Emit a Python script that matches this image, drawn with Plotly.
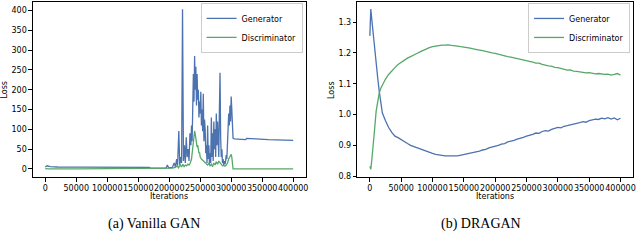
import plotly.graph_objects as go

# ---------------- Vanilla GAN ----------------
van_gen_x = [0, 3000, 8000, 20000, 60000, 100000, 140000, 168000, 170000, 195000, 197000, 199000,
             205000, 208000, 210000, 212000, 213500, 215500, 217000, 218500, 220000, 221500, 223000,
             224500, 226000, 227500, 229000, 230500, 232000, 233500, 235000, 236000, 237000, 238000,
             239000, 240000, 241000, 242000, 243000, 244000, 245000, 246000, 247000, 248000, 249000,
             250000, 251000, 252000, 253000, 254000, 255000, 256000, 257000, 258000, 259000, 260000,
             261000, 262000, 263000, 264000, 265000, 266000, 267000, 268000, 269000, 270000, 271000,
             272000, 273000, 274000, 275000, 276000, 277000, 278000, 279000, 280000, 281000, 282000,
             283000, 284000, 285000, 286000, 287000, 288000, 289000, 290000, 291000, 292000, 293000,
             294000, 295000, 296000, 297000, 298000, 299000, 300000, 301000, 302000, 303000, 305000,
             310000, 320000, 323000, 325000, 330000, 340000, 360000, 380000, 400000]
van_gen_y = [5, 8, 6, 5, 4.5, 4, 4, 4, 2, 2, 10, 3,
             4, 15, 5, 25, 8, 96, 10, 30, 15, 403, 20,
             60, 15, 80, 30, 50, 20, 90, 60, 110, 70, 150,
             240, 170, 285, 200, 258, 160, 240, 175, 200, 130, 170,
             140, 195, 110, 150, 95, 190, 70, 125, 100, 40, 60,
             15, 110, 25, 60, 10, 40, 15, 130, 30, 90, 20,
             120, 50, 100, 30, 140, 60, 120, 80, 30, 150, 243,
             80, 30, 50, 15, 25, 10, 20, 12, 20, 35, 25,
             60, 100, 140, 110, 160, 120, 183, 150, 90, 78, 76,
             75, 74, 74, 77, 77, 76, 74, 73, 72]

van_dis_x = [0, 5000, 50000, 100000, 150000, 200000, 205000, 210000, 213000, 215000, 218000, 220000,
             222000, 224000, 226000, 228000, 230000, 232000, 234000, 236000, 237000, 238000, 239000,
             240000, 241000, 242000, 243000, 244000, 245000, 246000, 247000, 248000, 249000, 250000,
             252000, 254000, 256000, 258000, 260000, 262000, 264000, 266000, 268000, 270000, 272000,
             274000, 276000, 278000, 280000, 282000, 284000, 286000, 288000, 290000, 292000, 294000,
             296000, 298000, 300000, 301000, 302000, 303000, 400000]
van_dis_y = [1, 0.5, 0.5, 0.5, 0.5, 1, 2, 4, 8, 3, 10, 5,
             12, 6, 10, 8, 12, 10, 15, 25, 40, 50, 65,
             80, 96, 88, 75, 70, 55, 60, 45, 40, 42, 30,
             25, 22, 18, 15, 12, 10, 14, 8, 12, 6, 15,
             10, 18, 12, 20, 15, 10, 8, 9, 7, 10, 15,
             25, 30, 37, 30, 2, 0.5, 0.5]

# ---------------- DRAGAN ----------------
dr_x = [0, 1500, 3000, 5000, 7500, 10000, 12500, 15000, 17500, 20000] + \
       list(range(25000, 400001, 5000))
dr_gen = [1.255, 1.342, 1.31, 1.265, 1.21, 1.165, 1.12, 1.075, 1.04, 1.005,
          0.98, 0.958, 0.942, 0.93, 0.925, 0.918, 0.912, 0.906, 0.9, 0.896,
          0.892, 0.889, 0.884, 0.881, 0.877, 0.874, 0.871, 0.869, 0.867, 0.866,
          0.866, 0.865, 0.866, 0.866, 0.868, 0.869, 0.872, 0.874, 0.876, 0.879,
          0.881, 0.885, 0.887, 0.892, 0.894, 0.897, 0.9, 0.904, 0.906, 0.911,
          0.913, 0.916, 0.92, 0.922, 0.926, 0.93, 0.932, 0.936, 0.94, 0.939,
          0.945, 0.948, 0.946, 0.952, 0.955, 0.958, 0.957, 0.962, 0.964, 0.966,
          0.97, 0.972, 0.974, 0.977, 0.975, 0.98, 0.983, 0.985, 0.984, 0.988,
          0.986, 0.99, 0.985, 0.989, 0.983, 0.988]
dr_dis = [0.832, 0.822, 0.85, 0.885, 0.95, 1.01, 1.045, 1.07, 1.085, 1.097,
          1.115, 1.13, 1.142, 1.152, 1.162, 1.17, 1.177, 1.183, 1.188, 1.192,
          1.198, 1.203, 1.208, 1.213, 1.217, 1.22, 1.222, 1.224, 1.225, 1.225,
          1.226, 1.224, 1.224, 1.222, 1.22, 1.219, 1.217, 1.215, 1.213, 1.212,
          1.209, 1.207, 1.204, 1.203, 1.2, 1.198, 1.195, 1.193, 1.19, 1.188,
          1.186, 1.184, 1.181, 1.18, 1.177, 1.174, 1.172, 1.17, 1.167, 1.167,
          1.163, 1.16, 1.158, 1.157, 1.153, 1.152, 1.149, 1.147, 1.144, 1.145,
          1.141, 1.14, 1.138, 1.137, 1.135, 1.136, 1.133, 1.132, 1.133, 1.131,
          1.13, 1.131, 1.128, 1.13, 1.133, 1.128]

x_ticks = [0, 50000, 100000, 150000, 200000, 250000, 300000, 350000, 400000]
van_y_ticks = [0, 50, 100, 150, 200, 250, 300, 350, 400]
dr_y_ticks = [0.8, 0.9, 1.0, 1.1, 1.2, 1.3]
captions = ["(a) Vanilla GAN", "(b) DRAGAN"]
series_names = ["Generator", "Discriminator"]

BLUE = "#4c72b0"
GREEN = "#55a868"
FONT = "DejaVu Sans"

fig = go.Figure()
fig.add_trace(go.Scatter(x=van_gen_x, y=van_gen_y, mode="lines", name=series_names[0],
                         line=dict(color=BLUE, width=1.3), xaxis="x", yaxis="y", legend="legend"))
fig.add_trace(go.Scatter(x=van_dis_x, y=van_dis_y, mode="lines", name=series_names[1],
                         line=dict(color=GREEN, width=1.3), xaxis="x", yaxis="y", legend="legend"))
fig.add_trace(go.Scatter(x=dr_x, y=dr_gen, mode="lines", name=series_names[0],
                         line=dict(color=BLUE, width=1.3), xaxis="x2", yaxis="y2", legend="legend2"))
fig.add_trace(go.Scatter(x=dr_x, y=dr_dis, mode="lines", name=series_names[1],
                         line=dict(color=GREEN, width=1.3), xaxis="x2", yaxis="y2", legend="legend2"))

W, H = 640, 251
ytop = 1 - 2 / H
ybot = 1 - 180 / H

axis_common = dict(showline=True, mirror=True, linecolor="black", linewidth=1,
                   ticks="outside", ticklen=3.5, tickwidth=0.8, tickcolor="black",
                   showgrid=False, zeroline=False, tickangle=0,
                   tickfont=dict(family=FONT, size=8, color="black"))

fig.update_layout(
    width=W, height=H,
    margin=dict(l=0, r=0, t=0, b=0),
    paper_bgcolor="white", plot_bgcolor="white",
    xaxis=dict(domain=[33 / W, 307 / W], range=[-20000, 420000], tickvals=x_ticks,
               ticktext=[str(v) for v in x_ticks], anchor="y", **axis_common),
    yaxis=dict(domain=[ybot, ytop], range=[-20.6, 421.6], tickvals=van_y_ticks,
               ticktext=[str(v) for v in van_y_ticks], anchor="x", **axis_common),
    xaxis2=dict(domain=[359 / W, 636 / W], range=[-20000, 420000], tickvals=x_ticks,
                ticktext=[str(v) for v in x_ticks], anchor="y2", **axis_common),
    yaxis2=dict(domain=[ybot, ytop], range=[0.797, 1.365], tickvals=dr_y_ticks,
                ticktext=["%.1f" % v for v in dr_y_ticks], anchor="x2", **axis_common),
    legend=dict(x=304 / W, y=1 - 3 / H, xanchor="right", yanchor="top",
                bgcolor="rgba(255,255,255,0.8)", bordercolor="#cccccc", borderwidth=1,
                font=dict(family=FONT, size=8, color="black"), tracegroupgap=0),
    legend2=dict(x=633 / W, y=1 - 3 / H, xanchor="right", yanchor="top",
                 bgcolor="rgba(255,255,255,0.8)", bordercolor="#cccccc", borderwidth=1,
                 font=dict(family=FONT, size=8, color="black"), tracegroupgap=0),
    showlegend=True,
)

annos = []
for cx, lx in [((33 + 307) / 2, 5), ((359 + 636) / 2, 333)]:
    annos.append(dict(x=cx / W, y=1 - 200 / H, xref="paper", yref="paper", text="Iterations",
                      showarrow=False, font=dict(family=FONT, size=8, color="black"),
                      xanchor="center", yanchor="middle"))
    annos.append(dict(x=lx / W, y=1 - 91 / H, xref="paper", yref="paper", text="Loss",
                      showarrow=False, textangle=-90, font=dict(family=FONT, size=8, color="black"),
                      xanchor="center", yanchor="middle"))
for cap, cx in zip(captions, [155, 483]):
    annos.append(dict(x=cx / W, y=1 - 228 / H, xref="paper", yref="paper", text=cap,
                      showarrow=False, font=dict(family="Liberation Serif", size=14, color="black"),
                      xanchor="center", yanchor="middle"))
fig.update_layout(annotations=annos)

fig.write_html("out.html", config={"displayModeBar": False},
               post_script="document.body.style.margin='0';")
